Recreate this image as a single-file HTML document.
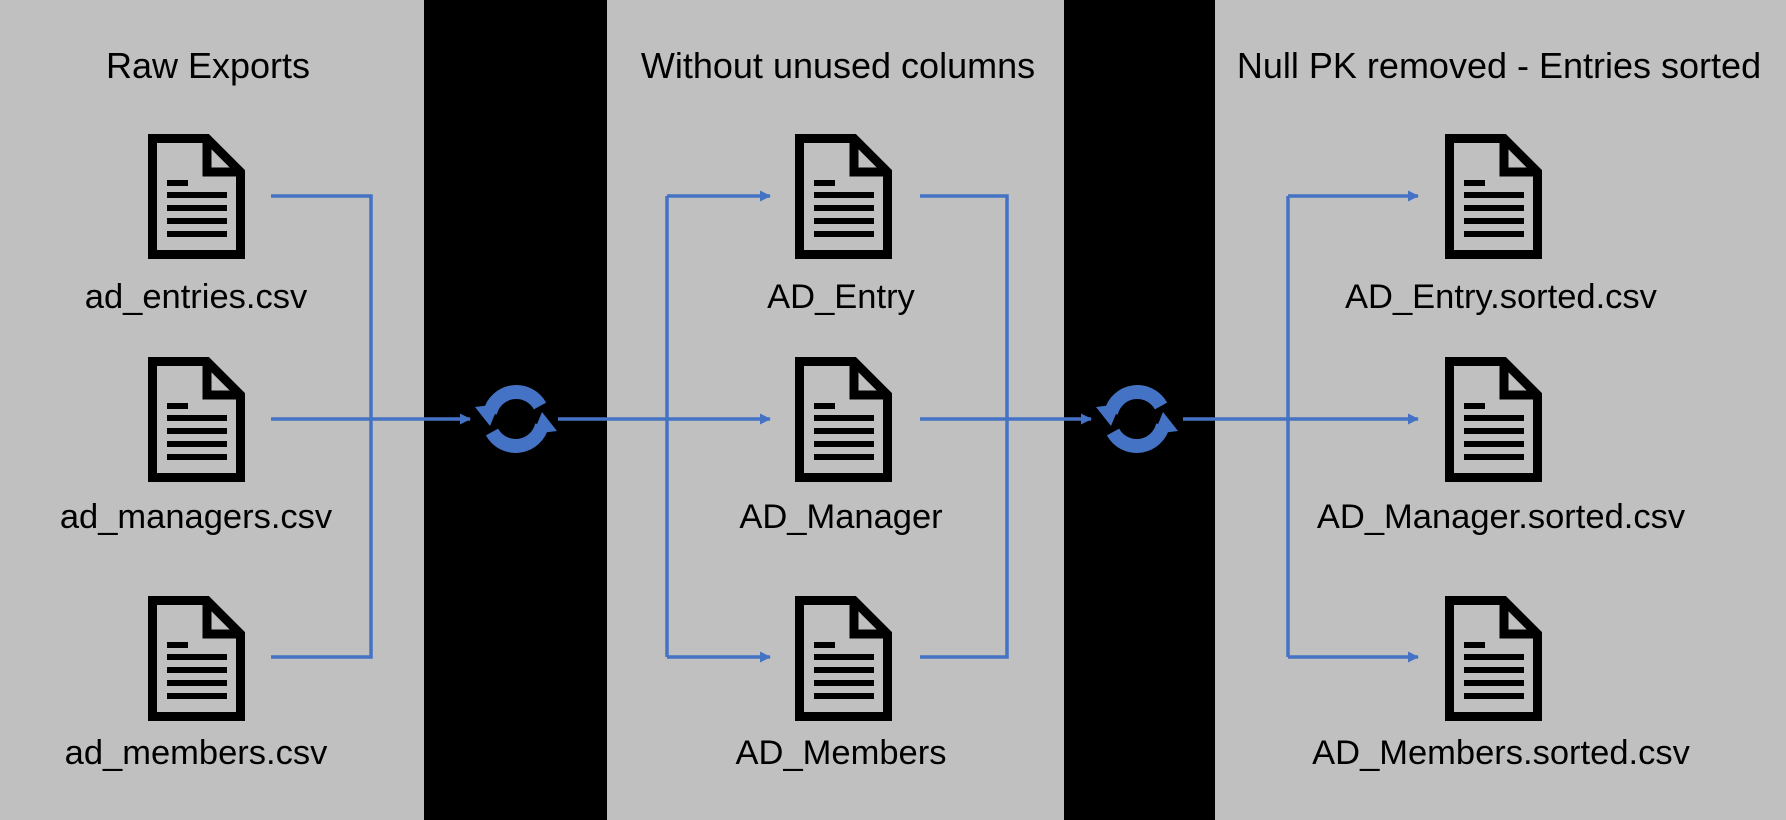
<!DOCTYPE html>
<html><head><meta charset="utf-8"><style>
html,body{margin:0;padding:0;background:#c0c0c0;}
svg{display:block}
text{font-family:"Liberation Sans",sans-serif;font-size:34.5px;fill:#000;text-anchor:middle}
text.t{font-size:36px}
</style></head><body>
<svg width="1786" height="820" viewBox="0 0 1786 820">
<defs>
<g id="doc">
<path d="M4.5 4.5 H59 L92.5 38 V120.5 H4.5 Z" fill="none" stroke="#000" stroke-width="9"/>
<path d="M59 4.5 V38 H92.5" fill="none" stroke="#000" stroke-width="9"/>
<rect x="19" y="46" width="21" height="6" fill="#000"/>
<rect x="19" y="58" width="60" height="6" fill="#000"/>
<rect x="19" y="71" width="60" height="6" fill="#000"/>
<rect x="19" y="84" width="60" height="6" fill="#000"/>
<rect x="19" y="97" width="60" height="6" fill="#000"/>
</g>
<marker id="ar" markerWidth="11" markerHeight="11" refX="10" refY="5.5" orient="auto" markerUnits="userSpaceOnUse">
<path d="M0 0 L11 5.5 L0 11 Z" fill="#4472c4"/></marker>
<g id="sync">
<path d="M-26 -6 A27 27 0 0 1 24 -13" fill="none" stroke="#4472c4" stroke-width="14"/>
<path d="M26 6 A27 27 0 0 1 -24 13" fill="none" stroke="#4472c4" stroke-width="14"/>
<path d="M-41 -12 L-17 -15 L-26 7 Z" fill="#4472c4"/>
<path d="M41 12 L17 15 L26 -7 Z" fill="#4472c4"/>
</g>
</defs>
<rect x="424" y="0" width="183" height="820" fill="#000"/>
<rect x="1064" y="0" width="151" height="820" fill="#000"/>

<text class="t" x="208" y="78">Raw Exports</text>
<text class="t" x="838" y="78">Without unused columns</text>
<text class="t" x="1499" y="78">Null PK removed - Entries sorted</text>

<use href="#doc" x="148" y="134"/><use href="#doc" x="148" y="357"/><use href="#doc" x="148" y="596"/>
<use href="#doc" x="795" y="134"/><use href="#doc" x="795" y="357"/><use href="#doc" x="795" y="596"/>
<use href="#doc" x="1445" y="134"/><use href="#doc" x="1445" y="357"/><use href="#doc" x="1445" y="596"/>

<text x="196" y="308">ad_entries.csv</text>
<text x="196" y="528">ad_managers.csv</text>
<text x="196" y="764">ad_members.csv</text>
<text x="841" y="308">AD_Entry</text>
<text x="841" y="528">AD_Manager</text>
<text x="841" y="764">AD_Members</text>
<text x="1501" y="308">AD_Entry.sorted.csv</text>
<text x="1501" y="528">AD_Manager.sorted.csv</text>
<text x="1501" y="764">AD_Members.sorted.csv</text>

<g stroke="#4472c4" stroke-width="3.5" fill="none">
<path d="M271 196 H371 V657 H271 M271 419 H371"/>
<path d="M371 419 H470" marker-end="url(#ar)"/>
<path d="M558 419 H667"/>
<path d="M667 196 V657"/>
<path d="M667 196 H770" marker-end="url(#ar)"/>
<path d="M667 419 H770" marker-end="url(#ar)"/>
<path d="M667 657 H770" marker-end="url(#ar)"/>
<path d="M920 196 H1007 V657 H920 M920 419 H1007"/>
<path d="M1007 419 H1091" marker-end="url(#ar)"/>
<path d="M1183 419 H1288"/>
<path d="M1288 196 V657"/>
<path d="M1288 196 H1418" marker-end="url(#ar)"/>
<path d="M1288 419 H1418" marker-end="url(#ar)"/>
<path d="M1288 657 H1418" marker-end="url(#ar)"/>
</g>
<use href="#sync" x="516" y="419"/>
<use href="#sync" x="1137" y="419"/>
</svg>
</body></html>
